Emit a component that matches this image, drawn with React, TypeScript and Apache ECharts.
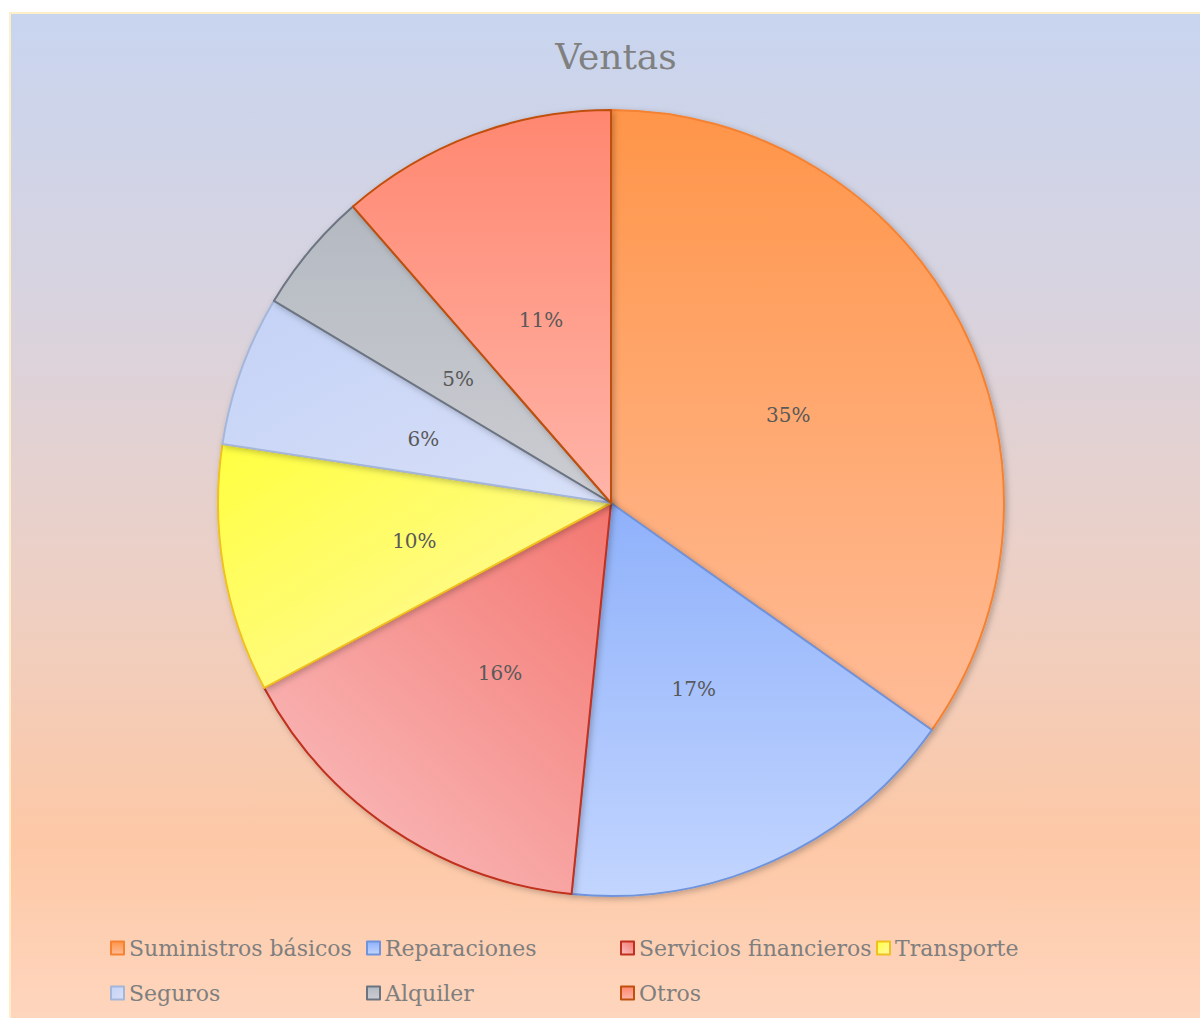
import React, { useEffect, useRef } from "react";
import * as echarts from "echarts";

const categories = [
  "Suministros básicos",
  "Reparaciones",
  "Servicios financieros",
  "Transporte",
  "Seguros",
  "Alquiler",
  "Otros",
];
const values = [34.8, 16.8, 15.6, 10.2, 6.2, 5.0, 11.4];

const fillStart = ["#ff9549", "#8fb1fb", "#f47670", "#ffff40", "#c4d2f6", "#b4b9c1", "#ff8770"];
const fillEnd = ["#ffbc98", "#c2d5fe", "#f9bcbc", "#fff8a8", "#d8e0f8", "#cccdd2", "#ffb4a8"];
const borderColors = ["#f58232", "#6f94dc", "#c0301e", "#f0c020", "#a4b6da", "#6c7480", "#c0500e"];
const gradDir = [
  [0, 0, 0, 1],
  [0, 0, 0, 1],
  [1, 0, 0.2, 1],
  [0, 0, 1, 1],
  [0, 0, 1, 1],
  [0, 0, 0, 1],
  [0, 0, 0, 1],
];

// legend grid placement (column, row)
const legendCols = [110, 366, 620, 876];
const legendRows = [937, 982];
const legendCell = [
  [0, 0],
  [1, 0],
  [2, 0],
  [3, 0],
  [0, 1],
  [1, 1],
  [2, 1],
];

export default function App() {
  const ref = useRef<HTMLDivElement>(null);
  useEffect(() => {
    if (!ref.current) return;
    const chart = echarts.init(ref.current, undefined, { renderer: "svg" });
    const serif = "DejaVu Serif";
    const data = categories.map((name, i) => {
      const d = gradDir[i];
      return {
        name,
        value: values[i],
        itemStyle: {
          color: new echarts.graphic.LinearGradient(d[0], d[1], d[2], d[3], [
            { offset: 0, color: fillStart[i] },
            { offset: 1, color: fillEnd[i] },
          ]),
          borderColor: borderColors[i],
          borderWidth: 2,
        },
      };
    });
    const legends = categories.map((name, i) => ({
      data: [name],
      left: legendCols[legendCell[i][0]],
      top: legendRows[legendCell[i][1]],
      padding: 0,
      icon: "rect",
      itemWidth: 13,
      itemHeight: 13,
      selectedMode: false,
      itemStyle: { borderWidth: 2 },
      textStyle: { fontFamily: serif, fontSize: 22, color: "#7f7f7f" },
    }));
    chart.setOption({
      animation: false,
      graphic: [
        {
          type: "rect",
          z: -10,
          silent: true,
          shape: { x: 10, y: 13, width: 1195, height: 1010 },
          style: {
            fill: new echarts.graphic.LinearGradient(0, 0, 0, 1, [
              { offset: 0, color: "#c8d5ef" },
              { offset: 0.3, color: "#d9d3de" },
              { offset: 0.55, color: "#ecd0c6" },
              { offset: 0.82, color: "#fdc8a6" },
              { offset: 1, color: "#fed6be" },
            ]),
            stroke: "#fdf0c8",
            lineWidth: 2,
          },
        },
      ],
      title: {
        text: "Ventas",
        left: 611,
        textAlign: "center",
        top: 33,
        textStyle: { fontFamily: serif, fontSize: 36, fontWeight: "normal", color: "#808080" },
      },
      legend: legends,
      series: [
        {
          type: "pie",
          center: [611, 503],
          radius: 393,
          startAngle: 90,
          clockwise: true,
          percentPrecision: 0,
          data,
          itemStyle: {
            shadowBlur: 6,
            shadowColor: "rgba(0,0,0,0.25)",
            shadowOffsetX: 2,
            shadowOffsetY: 2,
          },
          label: {
            show: true,
            position: "inside",
            formatter: "{d}%",
            fontFamily: serif,
            fontSize: 20,
            color: "#595959",
            offset: [0, 4],
          },
          labelLine: { show: false },
          emphasis: { disabled: true },
        },
      ],
    });
    return () => chart.dispose();
  }, []);
  return (
    <div
      ref={ref}
      style={{ position: "absolute", left: 0, top: 0, width: 1200, height: 1018 }}
    />
  );
}
